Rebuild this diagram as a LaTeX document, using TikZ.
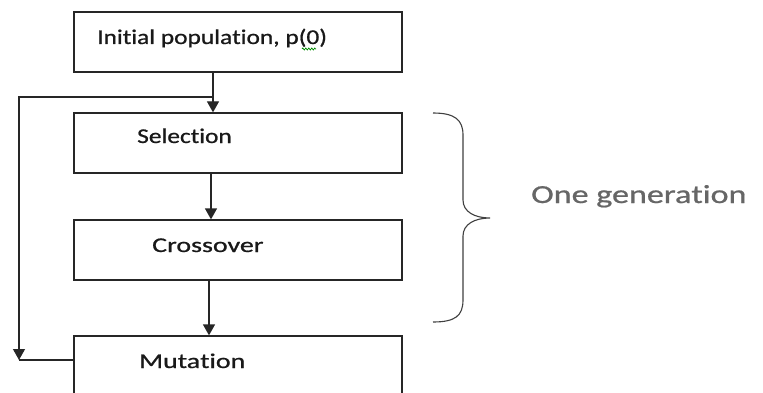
\documentclass[tikz,border=0pt]{standalone}
\usepackage{fontspec}
\setmainfont{Carlito}[Ligatures={NoCommon,NoRequired,NoContextual}]
\newfontfamily\heavyfont{Carlito}[Ligatures={NoCommon,NoRequired,NoContextual},FakeBold=0.7]
\usetikzlibrary{arrows.meta,decorations.pathmorphing}
\begin{document}
\begin{tikzpicture}[x=1pt,y=-1pt,
  box/.style={draw=black!85,line width=1.3pt,minimum width=328pt,inner sep=0pt},
  lbl/.style={anchor=base west,inner sep=0pt,text=black!90,font=\heavyfont\fontsize{21}{24}\selectfont},
  conn/.style={draw=black!85,line width=1.3pt},
  arr/.style={conn,-{Triangle[width=12pt,length=11pt]}}]
\useasboundingbox (0,0) rectangle (763,393);
\fill[white] (0,0) rectangle (763,393);
\clip (0,0) rectangle (763,393);
% boxes
\node[box,minimum height=60pt] (init) at (238,42) {};
\node[box,minimum height=60pt] (sel) at (238,143) {};
\node[box,minimum height=60pt] (cross) at (238,250) {};
\node[box,minimum height=80pt] (mut) at (238,376) {};
% labels
\node[lbl] (tinit) at (97,44) {\scalebox{1.21}[1]{Ini\kern0pt tial popula\kern0pt tion, p(0)}};
\node[lbl] (tsel) at (137,143) {\scalebox{1.21}[1]{Selec\kern0pt tion}};
\node[lbl] (tcross) at (152,252) {\scalebox{1.33}[1]{Crossover}};
\node[lbl] (tmut) at (139,368) {\scalebox{1.33}[1]{Muta\kern0pt tion}};
\node[anchor=base west,inner sep=0pt,text=black!60,font=\heavyfont\fontsize{26}{30}\selectfont] (gen) at (531,203) {\scalebox{1.31}[1]{One genera\kern0pt tion}};
% spell-check squiggle
\draw[green!55!black,line width=0.7pt,decorate,decoration={zigzag,segment length=3pt,amplitude=1pt}] (302,49) -- (316,49);
% arrows between boxes
\coordinate (xa) at (213,0);
\coordinate (xb) at (211,0);
\coordinate (xc) at (209,0);
\draw[arr] (init.south -| xa) -- (sel.north -| xa);
\draw[arr] (sel.south -| xb) -- (cross.north -| xb);
\draw[arr] (cross.south -| xc) -- (mut.north -| xc);
% feedback loop
\coordinate (mw) at (74,360);
\coordinate (lb) at (19,360);
\coordinate (lt) at (19,97);
\coordinate (jn) at (213,97);
\draw[conn] (mw) -- (lb);
\draw[arr] (jn) -- (lt) -- (lb);
% brace
\draw[black!75,line width=1.1pt] (433,113) .. controls (455,113) and (463,120) .. (463,135) -- (463,200) .. controls (463,212) and (475,218) .. (490,218) .. controls (475,218) and (463,224) .. (463,236) -- (463,300) .. controls (463,316) and (455,322) .. (433,322);
\end{tikzpicture}
\end{document}
